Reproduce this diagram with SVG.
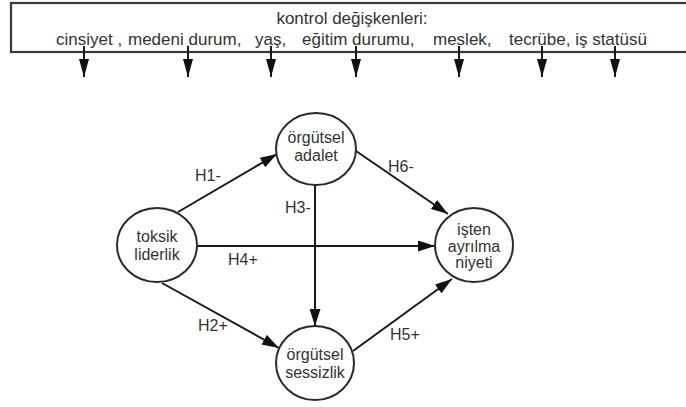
<svg xmlns="http://www.w3.org/2000/svg" width="686" height="407" viewBox="0 0 686 407">
  <style>
    text { font-family: "Liberation Sans", Arial, sans-serif; fill: #333; }
    .top { font-size: 17px; }
    .node-label { font-size: 16px; text-anchor: middle; }
    .edge-label { font-size: 16px; }
    .node { fill: #fff; stroke: #2a2a2a; stroke-width: 2; }
    .edge { fill: none; stroke: #1a1a1a; stroke-width: 2; marker-end: url(#arrow); }
    .ctrl { fill: none; stroke: #1a1a1a; stroke-width: 2; marker-end: url(#arrowTall); }
  </style>
  <defs>
    <marker id="arrow" viewBox="0 0 17 11" refX="17" refY="5.5" markerWidth="17" markerHeight="11" markerUnits="userSpaceOnUse" orient="auto">
      <path d="M0,0 L17,5.5 L0,11 z" fill="#111"/>
    </marker>
    <marker id="arrowTall" viewBox="0 0 18 10" refX="18" refY="5" markerWidth="18" markerHeight="10" markerUnits="userSpaceOnUse" orient="auto">
      <path d="M0,0 L18,5 L0,10 z" fill="#111"/>
    </marker>
  </defs>

  <!-- control variables box -->
  <g id="controls">
    <rect x="11" y="3" width="700" height="49" fill="#fff" stroke="#3a3a3a" stroke-width="2.2"/>
    <text class="top" x="352" y="24" text-anchor="middle">kontrol değişkenleri:</text>
    <text class="top" x="56" y="45">cinsiyet ,</text>
    <text class="top" x="128" y="45">medeni durum,</text>
    <text class="top" x="255" y="45">yaş,</text>
    <text class="top" x="302" y="45">eğitim durumu,</text>
    <text class="top" x="433" y="45">meslek,</text>
    <text class="top" x="509" y="45">tecrübe, iş statüsü</text>
  </g>

  <!-- connectors -->
  <g id="connectors">
    <line class="ctrl" x1="84" y1="46" x2="84" y2="77"/>
    <line class="ctrl" x1="188" y1="46" x2="188" y2="77"/>
    <line class="ctrl" x1="271" y1="46" x2="271" y2="77"/>
    <line class="ctrl" x1="356" y1="46" x2="356" y2="77"/>
    <line class="ctrl" x1="459" y1="46" x2="459" y2="77"/>
    <line class="ctrl" x1="542" y1="46" x2="542" y2="77"/>
    <line class="ctrl" x1="615" y1="46" x2="615" y2="77"/>

    <line class="edge" x1="178" y1="212" x2="277" y2="154"/>
    <line class="edge" x1="356" y1="151" x2="448" y2="214"/>
    <line class="edge" x1="197" y1="246" x2="435" y2="246"/>
    <line class="edge" x1="315" y1="185" x2="315" y2="326"/>
    <line class="edge" x1="162" y1="283" x2="279" y2="348"/>
    <line class="edge" x1="353" y1="351" x2="452" y2="279"/>

    <text class="edge-label" x="195" y="181">H1-</text>
    <text class="edge-label" x="388" y="172">H6-</text>
    <text class="edge-label" x="285" y="213">H3-</text>
    <text class="edge-label" x="228" y="265">H4+</text>
    <text class="edge-label" x="198" y="331">H2+</text>
    <text class="edge-label" x="390" y="340">H5+</text>
  </g>

  <g id="toksik-liderlik">
    <ellipse class="node" cx="157" cy="245" rx="40" ry="37"/>
    <text class="node-label" x="157" y="242">toksik</text>
    <text class="node-label" x="157" y="260">liderlik</text>
  </g>

  <g id="orgutsel-adalet">
    <ellipse class="node" cx="316" cy="149" rx="40" ry="36"/>
    <text class="node-label" x="316" y="143">örgütsel</text>
    <text class="node-label" x="316" y="161">adalet</text>
  </g>

  <g id="orgutsel-sessizlik">
    <ellipse class="node" cx="315" cy="363" rx="39" ry="37"/>
    <text class="node-label" x="315" y="360">örgütsel</text>
    <text class="node-label" x="315" y="378">sessizlik</text>
  </g>

  <g id="isten-ayrilma-niyeti">
    <ellipse class="node" cx="474" cy="245" rx="39" ry="37"/>
    <text class="node-label" x="474" y="235">işten</text>
    <text class="node-label" x="474" y="252">ayrılma</text>
    <text class="node-label" x="474" y="268">niyeti</text>
  </g>
</svg>
